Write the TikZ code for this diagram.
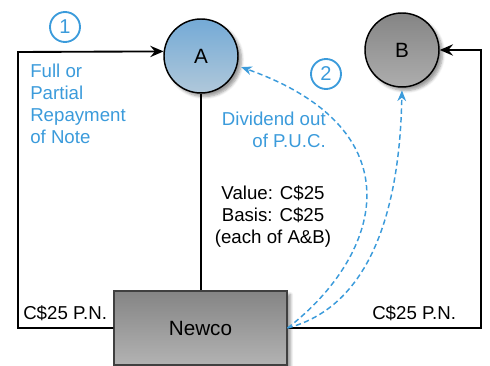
\documentclass[tikz,border=0pt]{standalone}
\usepackage{fontspec}
\setmainfont{Liberation Sans}
\usetikzlibrary{arrows.meta,shadows.blur}
\definecolor{notebl}{HTML}{3B9BDB}
\definecolor{atop}{HTML}{74AAD6}
\definecolor{abot}{HTML}{B0C8DA}

\begin{document}
\begin{tikzpicture}[x=0.75pt,y=-0.75pt,
  font=\fontsize{14}{16.5}\selectfont,
  holder/.style={circle,draw,line width=1.1pt,minimum size=55.5pt,inner sep=0pt,
    font=\fontsize{15.5}{18}\selectfont,blur shadow={shadow blur steps=6}},
  corp/.style={rectangle,draw=black!75,line width=0.9pt,minimum width=129.75pt,
    minimum height=55.5pt,top color=black!48,bottom color=black!30,
    font=\fontsize{15.5}{18}\selectfont,blur shadow={shadow blur steps=6}},
  pn/.style={line width=1.4pt,-{Stealth[length=10pt,width=8.5pt,inset=3.5pt]}},
  dvd/.style={notebl,line width=1.1pt,dash pattern=on 4pt off 2.5pt,
    -{Stealth[length=8pt,width=6.5pt,inset=2.5pt]}},
  stepmark/.style={circle,draw=notebl,text=notebl,line width=1.4pt,
    minimum size=22.5pt,inner sep=0pt,font=\fontsize{15}{18}\selectfont},
  bluetxt/.style={text=notebl,inner sep=0pt}]
\useasboundingbox (0,0) rectangle (490,366);

\node[holder,top color=atop,bottom color=abot] (A) at (201,56) {A};
\node[holder,top color=black!48,bottom color=black!32] (B) at (402,50) {B};
\node[corp] (newco) at (200.5,328) {Newco};

\node[stepmark] (s1) at (65,27) {1};
\node[stepmark] (s2) at (326,74) {2};

\node[bluetxt,align=left,anchor=north west] (repay) at (30,64) {Full or\\Partial\\Repayment\\of Note};
\node[bluetxt,align=right,anchor=north east] (dvdtxt) at (326,112) {Dividend out\\of P.U.C.};
\node[align=center,anchor=north,inner sep=0pt] (valbas) at (273,185) {Value: C\$25\\Basis: C\$25\\(each of A\&B)};
\node[anchor=base west,inner sep=0pt] (pnl) at (23,320) {C\$25 P.N.};
\node[anchor=base west,inner sep=0pt] (pnr) at (372,320) {C\$25 P.N.};

\coordinate (lc) at (18,52);
\coordinate (rc) at (481,50);
\draw[line width=1.1pt] (A.south) -- (A.south |- newco.north);
\draw[pn] (newco.west) -| (lc) -- (A.173);
\draw[pn] (newco.east) -| (rc) -- (B.east);
\draw[dvd,shorten >=3pt] (newco.east) .. controls (382,255) and (418,130) .. (A.-15);
\draw[dvd,shorten >=2pt] (newco.east) .. controls (375,305) and (400,200) .. (B.south);
\end{tikzpicture}
\end{document}
